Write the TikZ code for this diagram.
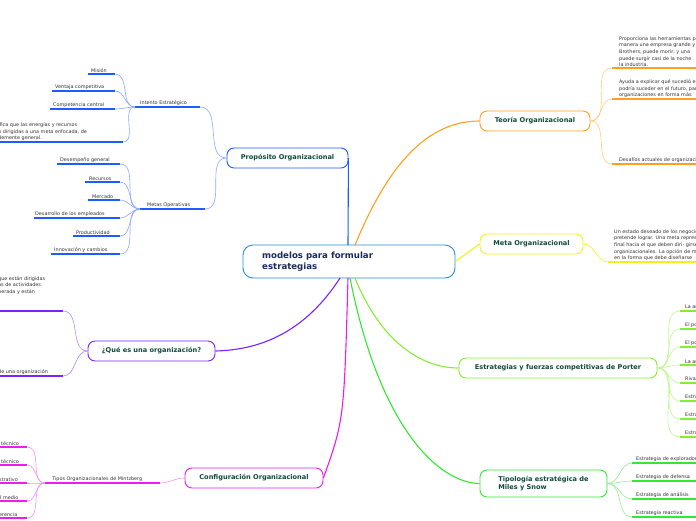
\documentclass[tikz,border=0pt]{standalone}
\usepackage{fontspec}
\setmainfont{DejaVu Sans}
\definecolor{cblue}{HTML}{1F5CFF}
\definecolor{lblue}{HTML}{8AA8FF}
\definecolor{cpurple}{HTML}{7A22FF}
\definecolor{lpurple}{HTML}{B08CFF}
\definecolor{cmag}{HTML}{EE1CEE}
\definecolor{lmag}{HTML}{F590F5}
\definecolor{corange}{HTML}{FFA020}
\definecolor{lorange}{HTML}{FFCC80}
\definecolor{cyellow}{HTML}{F2F020}
\definecolor{lgreen}{HTML}{86EE30}
\definecolor{llgreen}{HTML}{C0F890}
\definecolor{cgreen}{HTML}{33E833}
\definecolor{cgreenl}{HTML}{90F090}
\definecolor{ctitle}{HTML}{0F4A3A}
\definecolor{cnavy}{HTML}{1A2A5C}
\definecolor{ccenter}{HTML}{2A8FD6}
\usetikzlibrary{positioning}
% leaf: underline from x1 to x2 at y, text sitting above it
\newcommand{\leaf}[6]{%
  \coordinate (#1-l) at (#2,#4);
  \coordinate (#1-r) at (#3,#4);
  \draw[#6, line width=1.4pt] (#1-l) -- (#1-r);
  \node[leaftext, anchor=south west] (#1) at (#2,#4) {#5};
}
\begin{document}
\begin{tikzpicture}[
        x = 1pt, y = -1pt,
        topic/.style    = {draw, rounded corners=7pt, line width=0.9pt, fill=white,
                           text=ctitle, font=\bfseries\fontsize{6.6}{8}\selectfont,
                           inner sep=0pt, minimum height=20pt},
        leaftext/.style = {text=black!80, font=\fontsize{4.9}{6.6}\selectfont,
                           align=left, inner sep=1pt},
        branch/.style   = {line width=0.6pt},
        trunk/.style    = {line width=1.1pt},
      ]
    \useasboundingbox (0,0) rectangle (696,520);
    \clip (0,0) rectangle (696,520);

    % central topic
    \node[draw=ccenter, line width=0.9pt, rounded corners=10pt, minimum width=212pt,
          minimum height=33pt, fill=white] (root) at (349,261.5) {};
    \node[anchor=west, align=left, text=cnavy, inner sep=0pt,
          font=\bfseries\fontsize{8.6}{11}\selectfont] (roottext) at (262,261.5)
          {modelos para formular\\estrategias};

    % main topics
    \node[topic, draw=cblue, minimum width=121pt]   (prop) at (287.5,158) {Propósito Organizacional};
    \node[topic, draw=cpurple, minimum width=127pt] (que)  at (151.5,351) {¿Qué es una organización?};
    \node[topic, draw=cmag, minimum width=138pt]    (conf) at (254,478)   {Configuración Organizacional};
    \node[topic, draw=corange, minimum width=110pt] (teo)  at (535,121)   {Teoría Organizacional};
    \node[topic, draw=cyellow, minimum width=103pt] (meta) at (531.5,244) {Meta Organizacional};
    \node[topic, draw=lgreen, minimum width=198pt]  (port) at (558,368)   {Estrategias y fuerzas competitivas de Porter};
    \node[topic, draw=cgreen, minimum width=127pt, minimum height=27pt, align=left]
          (tipo) at (543.5,483.5) {Tipología estratégica de\\Miles y Snow};

    % trunks from the central topic
    \draw[trunk, cblue]   (348,245) -- (prop.east);
    \draw[trunk, cmag]    (348,278) .. controls (344,420) .. (conf.east);
    \draw[trunk, cpurple] (340,278) .. controls (300,340) and (250,350) .. (que.east);
    \draw[trunk, corange] (355,245) .. controls (390,160) and (430,121) .. (teo.west);
    \draw[trunk, cyellow] (root.east) -- (meta.west);
    \draw[trunk, lgreen]  (355,278) .. controls (380,340) and (420,368) .. (port.west);
    \draw[trunk, cgreen]  (350,278) .. controls (380,430) and (440,483) .. (tipo.west);

    % Propósito Organizacional
    \leaf{int}{135}{200}{107}{\hspace{4pt}Intento Estratégico}{cblue}
    \leaf{met}{140}{205}{209}{\hspace{6pt}Metas Operativas}{cblue}
    \draw[branch, lblue] (prop.west) to[out=180,in=0] (int-r);
    \draw[branch, lblue] (prop.west) to[out=180,in=0] (met-r);
    \leaf{mis}{88}{115}{74}{\hspace{2pt}Misión}{cblue}
    \leaf{ven}{52}{115}{91}{\hspace{2pt}Ventaja competitiva}{cblue}
    \leaf{com}{50}{115}{109}{\hspace{2pt}Competencia central}{cblue}
    \leaf{sig}{-3}{123}{142}{ifica que las energías y recursos\\n dirigidas a una meta enfocada, de\\demente general.}{cblue}
    \foreach \n in {mis,ven,com,sig}
      \draw[branch, lblue] (int-l) to[out=180,in=0] (\n-r);
    \leaf{des}{57}{120}{164}{\hspace{2pt}Desempeño general}{cblue}
    \leaf{rec}{85}{120}{182}{\hspace{3pt}Recursos}{cblue}
    \leaf{mer}{88}{120}{200}{\hspace{3pt}Mercado}{cblue}
    \leaf{emp}{34}{120}{218}{Desarrollo de los empleados}{cblue}
    \leaf{pro}{73}{120}{236}{\hspace{2pt}Productividad}{cblue}
    \leaf{inn}{51}{120}{254}{\hspace{2pt}Innovación y cambios}{cblue}
    \foreach \n in {des,rec,mer,emp,pro,inn}
      \draw[branch, lblue] (met-l) to[out=180,in=0] (\n-r);

    % ¿Qué es una organización?
    \leaf{def}{-3}{63}{311}{que están dirigidas\\as de actividades\\berada y están\\[10pt]}{cpurple}
    \leaf{ele}{-3}{63}{376}{ de una organización}{cpurple}
    \foreach \n in {def,ele}
      \draw[branch, lpurple] (que.west) to[out=180,in=0] (\n-r);

    % Configuración Organizacional
    \leaf{min}{45}{160}{483}{\hspace{6pt}Tipos Organizacionales de Mintzberg}{cmag}
    \draw[branch, lmag] (conf.west) to[out=180,in=0] (min-r);
    \leaf{nt}{0}{27}{447}{técnico}{cmag}
    \leaf{at}{0}{27}{465}{técnico}{cmag}
    \leaf{pa}{-2}{27}{483}{strativo}{cmag}
    \leaf{nm}{-1}{27}{501}{l medio}{cmag}
    \leaf{ag}{-2}{27}{518}{erencia}{cmag}
    \foreach \n in {nt,at,pa,nm,ag}
      \draw[branch, lmag] (min-l) to[out=180,in=0] (\n-r);

    % Teoría Organizacional
    \leaf{her}{612}{700}{68}{\hspace{6pt}Proporciona las herramientas para\\\hspace{6pt}manera una empresa grande y\\\hspace{6pt}Brothers, puede morir, y una\\\hspace{6pt}puede surgir casi de la noche\\\hspace{6pt}la industria.}{corange}
    \leaf{ayu}{612}{700}{99}{\hspace{6pt}Ayuda a explicar qué sucedió en el\\\hspace{6pt}podría suceder en el futuro, para\\\hspace{6pt}organizaciones en forma más}{corange}
    \leaf{dsf}{612}{700}{164}{\hspace{6pt}Desafíos actuales de organización}{corange}
    \foreach \n in {her,ayu,dsf}
      \draw[branch, lorange] (teo.east) to[out=0,in=180] (\n-l);

    % Meta Organizacional
    \leaf{est}{608}{700}{262}{\hspace{5pt}Un estado deseado de los negocios que\\\hspace{5pt}pretende lograr. Una meta representa\\\hspace{5pt}final hacia el que deben diri- girse\\\hspace{5pt}organizacionales. La opción de metas\\\hspace{5pt}en la forma que debe diseñarse}{cyellow}
    \draw[branch, cyellow] (meta.east) to[out=0,in=180] (est-l);

    % Porter
    \foreach \n/\y/\t in {a/311/La amenaza de nuevos competidores,
                          b/329/El poder de los proveedores,
                          c/347/El poder de los compradores,
                          d/365/La amenaza de sustitutos,
                          e/383/Rivalidad entre competidores,
                          f/401/Estrategia de diferenciación,
                          g/419/Estrategia de costos,
                          h/437/Estrategia de enfoque} {
      \leaf{p\n}{680}{700}{\y}{\hspace{4pt}\t}{lgreen}
      \draw[branch, llgreen] (port.east) to[out=0,in=180] (p\n-l);
    }

    % Miles y Snow
    \foreach \n/\y/\t in {a/463/Estrategia de exploradora,
                          b/481/Estrategia de defensa,
                          c/499/Estrategia de análisis,
                          d/517/Estrategia reactiva} {
      \leaf{m\n}{632}{700}{\y}{\hspace{3pt}\t}{cgreen}
      \draw[branch, cgreenl] (tipo.east) to[out=0,in=180] (m\n-l);
    }
\end{tikzpicture}
\end{document}
